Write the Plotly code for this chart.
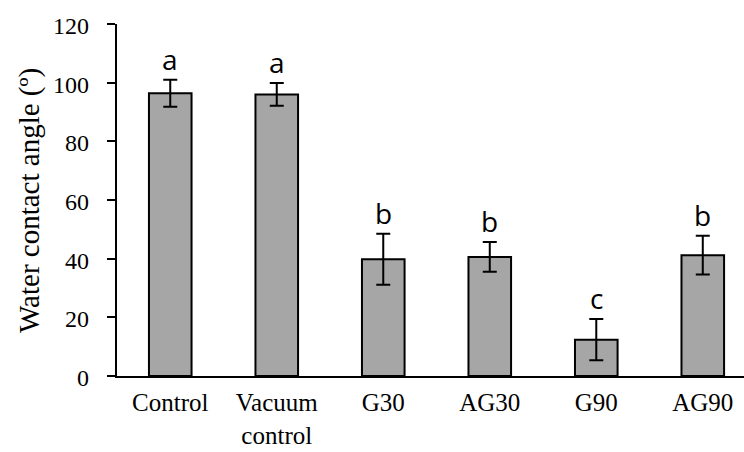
import plotly.graph_objects as go

# Water contact angle per treatment (mean ± SD) with significance groups
categories = ["Control", "Vacuum<br>control", "G30", "AG30", "G90", "AG90"]
angle_mean = [96.4, 96.0, 39.8, 40.6, 12.4, 41.2]
angle_sd = [4.6, 3.9, 8.7, 5.1, 7.0, 6.6]
groups = ["a", "a", "b", "b", "c", "b"]
y_ticks = [0, 20, 40, 60, 80, 100, 120]
y_title = "Water contact angle (º)"

x_pos = list(range(len(categories)))

serif = "Liberation Serif, Times New Roman, serif"
sans = "Open Sans, Calibri, sans-serif"

fig = go.Figure(
    go.Bar(
        x=x_pos,
        y=angle_mean,
        marker=dict(color="#A6A6A6", line=dict(color="black", width=2)),
        error_y=dict(type="data", array=angle_sd, visible=True,
                     color="black", thickness=2, width=7),
        showlegend=False,
    )
)

# Letters marking significance groups, placed just above each error bar
for xi, m, s, g in zip(x_pos, angle_mean, angle_sd, groups):
    fig.add_annotation(
        x=xi, y=m + s, text=g, showarrow=False,
        yanchor="bottom", yshift=0,
        font=dict(family=sans, size=28, color="black"),
    )

# Y tick labels, right-aligned with a wider gap from the tick marks
for v in y_ticks:
    fig.add_annotation(
        xref="paper", yref="y", x=-0.0415, y=v,
        text=str(v), showarrow=False,
        xanchor="right", yanchor="middle", yshift=-2,
        font=dict(family=serif, size=24, color="black"),
    )

# Vertical axis title, set a fixed distance left of the plot area
fig.add_annotation(
    xref="paper", yref="paper", x=-0.1404, y=0.5,
    text=y_title, textangle=-90, showarrow=False,
    xanchor="center", yanchor="middle",
    font=dict(family=serif, size=29, color="black"),
)

fig.update_layout(
    width=744, height=452,
    margin=dict(l=117, r=0, t=24, b=76),
    paper_bgcolor="white", plot_bgcolor="white",
    bargap=0.6,
    xaxis=dict(
        tickmode="array", tickvals=x_pos, ticktext=categories,
        range=[-0.5, 5.387], automargin=False,
        showline=True, linecolor="black", linewidth=2,
        ticks="", showgrid=False, zeroline=False,
        ticklabelstandoff=3,
        tickfont=dict(family=serif, size=25, color="black"),
    ),
    yaxis=dict(
        range=[0, 120], tickvals=y_ticks, automargin=False,
        showline=True, linecolor="black", linewidth=2,
        ticks="outside", ticklen=8, tickwidth=2, tickcolor="black",
        showgrid=False, zeroline=False, showticklabels=False,
    ),
)

fig.write_html("out.html")
